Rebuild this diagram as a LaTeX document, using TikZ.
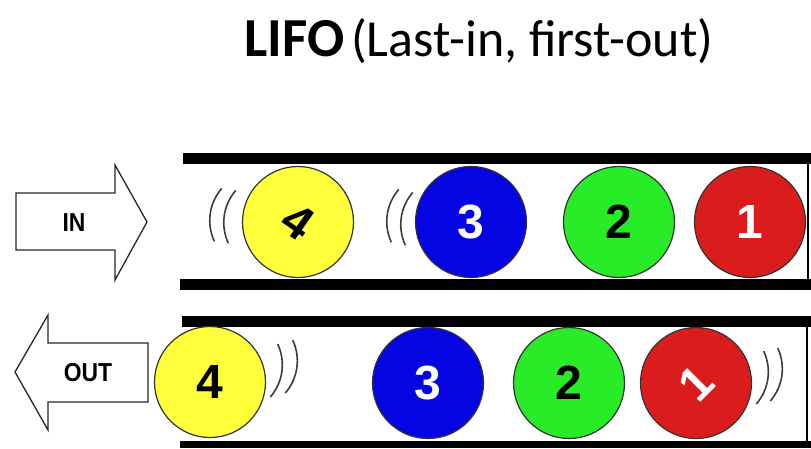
\documentclass[tikz,border=0pt]{standalone}
\usepackage{fontspec}
\setmainfont{Carlito}
\newfontfamily\arrowfont{Liberation Sans}
\newfontfamily\digitfont{Liberation Sans}
\definecolor{ballyellow}{RGB}{255,255,60}
\definecolor{ballblue}{RGB}{5,5,228}
\definecolor{ballgreen}{RGB}{40,236,40}
\definecolor{ballred}{RGB}{218,28,28}
\definecolor{wavegray}{RGB}{60,60,60}
\begin{document}
\begin{tikzpicture}[x=1pt,y=-1pt,
  ball/.style={circle,draw=black!80,line width=1.2pt,minimum size=111pt,inner sep=0pt,
    font=\digitfont\bfseries\fontsize{48}{48}\selectfont},
  wave/.style={draw=wavegray,line width=1.6pt},
  lwave/.pic={\draw[wave] (8.1,-27) arc[start angle=213,end angle=147,radius=49];},
  rwave/.pic={\draw[wave] (-8.1,-27) arc[start angle=-33,end angle=33,radius=49];},
  bigarrow/.style={draw=black!85,line width=1.3pt,fill=white,line join=miter},
  arrowtext/.style={font=\arrowfont\bfseries\fontsize{26}{26}\selectfont,xscale=0.88},
  bar/.style={fill=black}
]
\fill[white] (0,0) rectangle (811,448);
\useasboundingbox (0,0) rectangle (811,448);

% title
\node[anchor=base west,inner sep=0pt,font=\bfseries\fontsize{55}{55}\selectfont] (lifo) at (244,56) {LIFO};
\node[anchor=base west,inner sep=0pt,font=\fontsize{52}{52}\selectfont] (sub) at (351,56) {(Last-in, first-out)};

% top tube
\fill[bar] (183,153) rectangle (811,164);
\fill[bar] (180,279) rectangle (811,290);
\draw[line width=2.2pt] (808,160) -- (808,284);

% bottom tube
\fill[bar] (182,316) rectangle (811,327);
\fill[bar] (180,441) rectangle (811,448);
\draw[line width=2.2pt] (807,322) -- (807,444);

% IN arrow
\draw[bigarrow] (16,193) -- (115,193) -- (115,165) -- (147,222) -- (115,280) -- (115,250) -- (16,250) -- cycle;
\node[arrowtext] (in) at (74,223) {IN};

% OUT arrow
\draw[bigarrow] (148,343) -- (48,343) -- (48,315) -- (15,372) -- (48,430) -- (48,402) -- (148,402) -- cycle;
\node[arrowtext] (out) at (88,373) {OUT};

% top row balls
\node[ball,fill=ballyellow] (t4) at (298,222) {\rotatebox{-35}{4}};
\node[ball,fill=ballblue,text=white] (t3) at (471,222) {3};
\node[ball,fill=ballgreen] (t2) at (619,222) {2};
\node[ball,fill=ballred,text=white] (t1) at (750,222) {1};

% bottom row balls
\node[ball,fill=ballyellow] (b4) at (210,382) {4};
\node[ball,fill=ballblue,text=white] (b3) at (428,383) {3};
\node[ball,fill=ballgreen] (b2) at (569,383) {2};
\node[ball,fill=ballred,text=white,rotate=45] (b1) at (696,383) {1};

% motion waves
\pic[rotate=-8] at (210,214) {lwave};
\pic[rotate=-8] at (224,216) {lwave};
\pic[rotate=-8] at (387,215) {lwave};
\pic[rotate=-8] at (401,218) {lwave};
\pic[rotate=-8] at (282,372) {rwave};
\pic[rotate=-8] at (297,368) {rwave};
\pic[rotate=-8] at (768,379) {rwave};
\pic[rotate=-8] at (782,376) {rwave};
\end{tikzpicture}
\end{document}
